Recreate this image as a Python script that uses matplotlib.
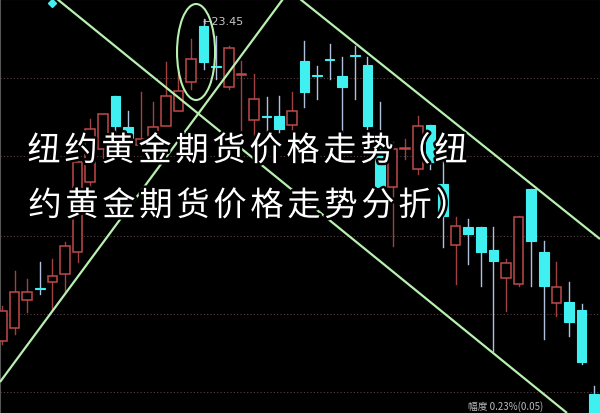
import matplotlib
matplotlib.use("Agg")
import matplotlib.pyplot as plt
from matplotlib.patches import Rectangle, Ellipse
import matplotlib.patheffects as pe

# ---- data (price index units, higher = higher price) ----
opens  = [72, 85, 113, 125, 131, 139, 161, 231, 264, 317, 286, 268, 272, 287, 302, 331,
          387, 347, 326, 338, 293, 297, 297, 288, 352, 338, 354, 337, 358, 348, 266, 226,
          264, 244, 288, 229, 168, 186, 186, 163, 135, 129, 224, 161, 110, 111, 103, 19]
highs  = [107, 142, 134, 151, 154, 171, 254, 294, 299, 317, 302, 321, 311, 351, 341, 374,
          394, 377, 367, 352, 339, 316, 317, 321, 372, 347, 369, 356, 367, 356, 311, 271,
          274, 297, 288, 254, 196, 194, 186, 186, 154, 197, 224, 172, 151, 131, 109, 27]
lows   = [69, 79, 101, 119, 104, 121, 151, 224, 254, 277, 271, 264, 254, 287, 302, 324,
          344, 334, 324, 282, 269, 281, 281, 269, 306, 314, 334, 281, 314, 284, 224, 167,
          254, 239, 244, 166, 129, 149, 127, 62, 102, 127, 127, 74, 97, 77, 49, -10]
closes = [102, 121, 121, 124, 137, 167, 251, 284, 299, 287, 274, 274, 286, 317, 322, 354,
          351, 346, 365, 339, 314, 296, 284, 302, 321, 337, 353, 326, 357, 287, 226, 264,
          265, 287, 251, 197, 187, 179, 161, 152, 150, 196, 172, 127, 126, 91, 51, -5]

grid_levels = [335, 257, 177, 99, 21]
peak_label = "←23.45"
title_line1 = "纽约黄金期货价格走势（纽"
title_line2 = "约黄金期货价格走势分折）"
status_text = "幅度 0.23%(0.05)"

# trend lines as (index, price) endpoints
trend_lines = [((4.37, 414), (44.84, 0)),
               ((-0.16, 31), (22.3, 414)),
               ((23.65, 414), (47.46, 174))]

UP = "#c04a4a"
UP_WICK = "#a04040"
DN = "#40f0f0"
DN_WICK = "#b0c0dc"
GREEN = "#b8f0b0"

W, H = 600, 414
fig = plt.figure(figsize=(W / 100, H / 100), dpi=100)
fig.patch.set_facecolor("black")
ax = fig.add_axes([0, 0, 1, 1])
ax.set_facecolor("black")
ax.set_xlim(-0.16, 47.46)
ax.set_ylim(0, 414)
ax.set_xticks([])
ax.set_yticks([])
for s in ax.spines.values():
    s.set_color("#555555")
    s.set_linewidth(0.8)

for g in grid_levels:
    ax.axhline(g, color="#5a4040", lw=0.8, ls=(0, (1, 2)), zorder=1)

w = 0.76
for i, (o, h, l, c) in enumerate(zip(opens, highs, lows, closes)):
    top, bot = max(o, c), min(o, c)
    if c > o:
        ax.plot([i, i], [top, h], color=UP_WICK, lw=1.0, zorder=2)
        ax.plot([i, i], [l, bot], color=UP_WICK, lw=1.0, zorder=2)
        ax.add_patch(Rectangle((i - w / 2, bot), w, top - bot, facecolor="black",
                               edgecolor=UP, lw=1.1, zorder=3))
    else:
        ax.plot([i, i], [l, h], color=DN_WICK, lw=1.0, zorder=2)
        ax.add_patch(Rectangle((i - w / 2, bot), w, max(top - bot, 1.5), facecolor=DN,
                               edgecolor=DN, lw=0.8, zorder=3))

for (x0, y0), (x1, y1) in trend_lines:
    ax.plot([x0, x1], [y0, y1], color=GREEN, lw=1.6, zorder=4, solid_capstyle="butt")

ax.add_patch(Ellipse((15.4, 361), 3.02, 96, fill=False, edgecolor=GREEN, lw=1.5, zorder=4))

ax.plot([3.97], [410], marker="D", color=DN, markersize=4, zorder=5)
ax.text(15.9, 392, peak_label, color="#c8c8c8", fontsize=8, va="center", ha="left",
        family="DejaVu Sans", zorder=5)

ax.text(37.0, 2, status_text, color="#bbbbbb", fontsize=7, va="bottom", ha="left",
        family=["Noto Sans CJK SC", "DejaVu Sans"], zorder=5)

stroke = [pe.withStroke(linewidth=3.5, foreground="black")]
for line, x_start, y_center in ((title_line1, 44, 152), (title_line2, 45, 207)):
    for k, ch in enumerate(line):
        fig.text((x_start + 37 * k) / W, 1 - y_center / H, ch, color="white",
                 fontsize=24, va="center", ha="center",
                 family=["Noto Sans CJK SC", "DejaVu Sans"], fontweight="medium",
                 path_effects=stroke, zorder=6)

fig.savefig("out.png", dpi=100, facecolor="black")
